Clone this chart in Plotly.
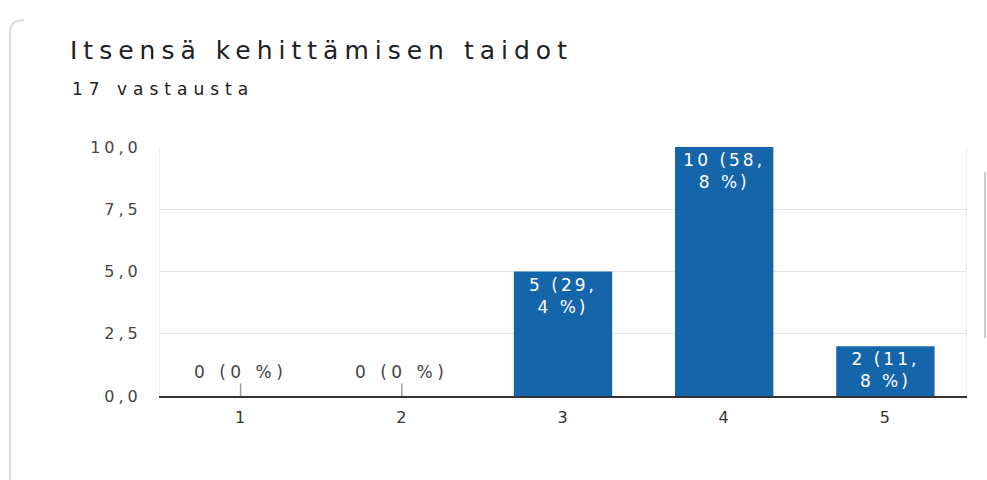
import plotly.graph_objects as go

# Survey answers: scale 1-5, number of respondents per option
categories = ["1", "2", "3", "4", "5"]
counts = [0, 0, 5, 10, 2]
total = 17

title_text = "Itsensä kehittämisen taidot"
subtitle_text = "17 vastausta"
y_tick_vals = [0, 2.5, 5, 7.5, 10]
y_tick_text = ["0,0", "2,5", "5,0", "7,5", "10,0"]

BAR = "#1565ab"
WIDE = "letter-spacing:{}px"


def spaced(s, px):
    return f"<span style='{WIDE.format(px)}'>{s}</span>"


def bar_label(c):
    if c == 0:
        return "0 (0 %)"
    pct = f"{c / total * 100:.1f}".split(".")
    return f"{c} ({pct[0]},<br>{pct[1]} %)"


labels = [bar_label(c) for c in counts]

fig = go.Figure()
fig.add_trace(go.Bar(
    x=categories,
    y=counts,
    marker=dict(color=BAR, line=dict(width=0)),
    text=[spaced(t, 3) for t in labels],
    textposition=["none" if c == 0 else "inside" for c in counts],
    insidetextanchor="end",
    textangle=0,
    textfont=dict(color="white", size=17, family="DejaVu Sans"),
    cliponaxis=False,
    hoverinfo="skip",
))

# zero-count options: label raised above the baseline with a short stem
for i, (c, lab) in enumerate(zip(counts, labels)):
    if c == 0:
        fig.add_annotation(
            x=i, y=c, xref="x", yref="y",
            text=spaced(lab, 4.5),
            showarrow=True, arrowhead=0, arrowwidth=1.5, arrowcolor="#9e9e9e",
            ax=0, ay=-24, standoff=0,
            font=dict(size=17, color="#444444", family="DejaVu Sans"),
        )

fig.update_layout(
    width=987, height=480,
    margin=dict(l=160, r=21, t=147, b=84),
    paper_bgcolor="white", plot_bgcolor="white",
    showlegend=False,
    bargap=0.39,
    font=dict(family="DejaVu Sans", color="#444444"),
    title=dict(
        text=spaced(title_text, 6),
        x=70 / 987, xanchor="left", xref="container",
        y=1 - 50 / 480, yanchor="middle", yref="container",
        font=dict(size=25, color="#202124", family="DejaVu Sans"),
    ),
)

fig.add_annotation(
    text=spaced(subtitle_text, 6),
    xref="paper", yref="paper",
    x=(70 - 160) / 806, y=(396 - 89) / 249,
    xanchor="left", yanchor="middle", showarrow=False,
    font=dict(size=17, color="#202124", family="DejaVu Sans"),
)

fig.update_xaxes(
    type="category",
    showline=True, linecolor="#333333", linewidth=1.5,
    showgrid=False, ticks="",
    tickfont=dict(size=16, color="#333333"),
    ticklabelstandoff=6,
    ticktext=[spaced(c, 1) for c in categories], tickvals=categories,
)
fig.update_yaxes(
    range=[0, 10],
    tickvals=y_tick_vals,
    ticktext=[spaced(t, 4) for t in y_tick_text],
    showgrid=True, gridcolor="#e6e6e6", gridwidth=1,
    showline=True, mirror=True, linecolor="#eeeeee", linewidth=1,
    zeroline=False, ticks="",
    tickfont=dict(size=16, color="#444444"),
    ticklabelstandoff=14,
)

# card edge on the left and a scroll indicator on the right
fig.add_shape(type="path", xref="paper", yref="paper",
              path=f"M {(10 - 160) / 806} {(396 - 480) / 249} "
                   f"L {(10 - 160) / 806} {(396 - 32) / 249} "
                   f"Q {(10 - 160) / 806} {(396 - 20) / 249} {(24 - 160) / 806} {(396 - 20) / 249}",
              line=dict(color="#dddddd", width=2))
fig.add_shape(type="line", xref="paper", yref="paper",
              x0=(985 - 160) / 806, x1=(985 - 160) / 806,
              y0=(396 - 172) / 249, y1=(396 - 338) / 249,
              line=dict(color="#cccccc", width=2))

fig.write_html("out.html")
